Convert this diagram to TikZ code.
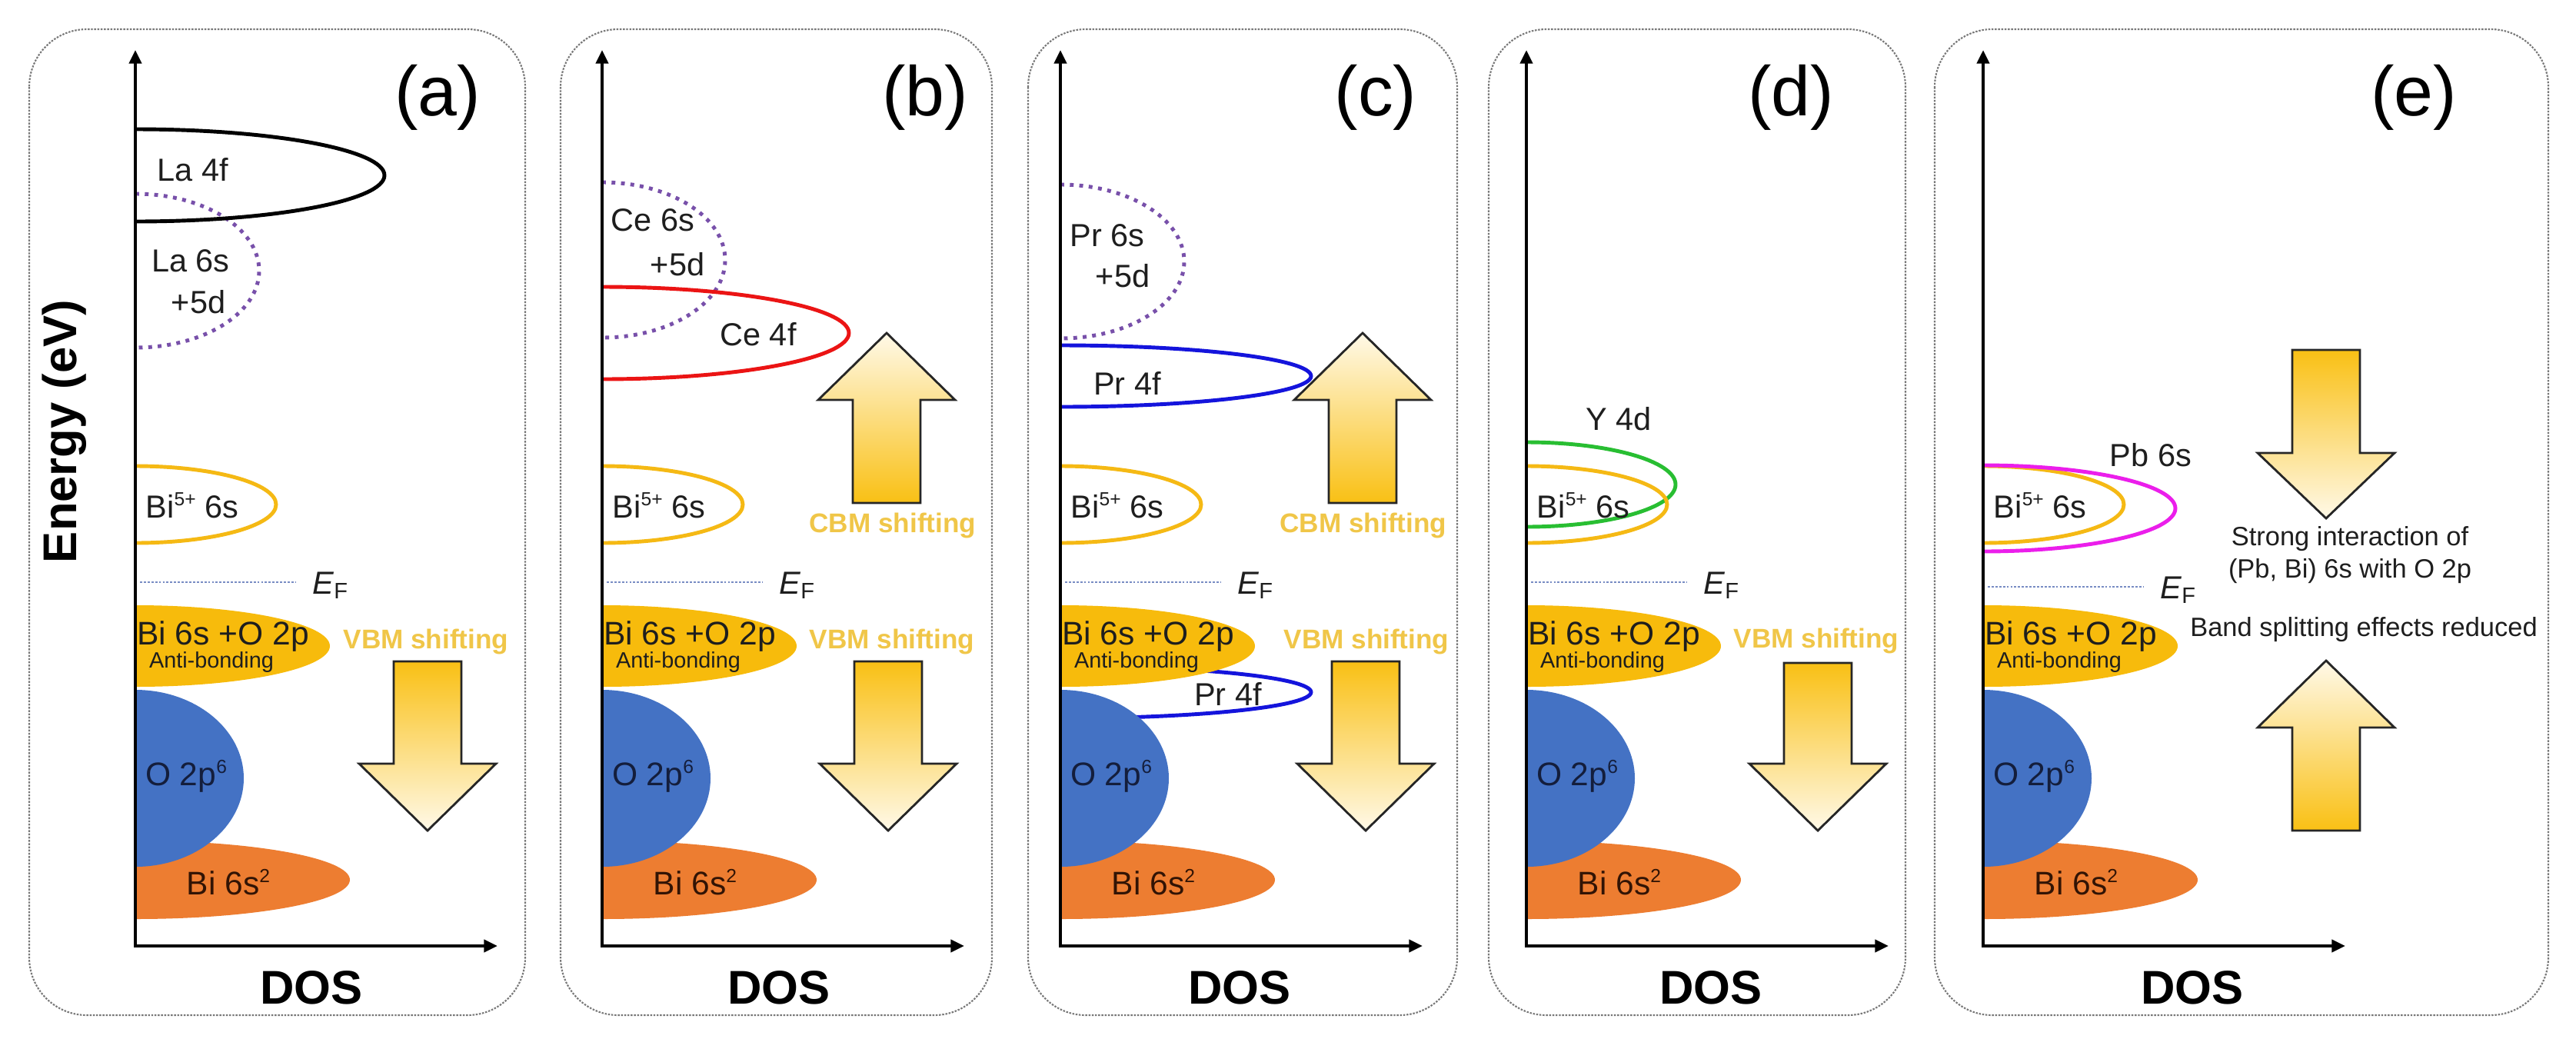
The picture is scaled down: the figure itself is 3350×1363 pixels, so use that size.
\documentclass[tikz,border=0pt]{standalone}
\usepackage{fontspec}
\setmainfont{Liberation Sans}
\usetikzlibrary{arrows.meta}
\definecolor{boxc}{RGB}{120,120,120}
\definecolor{goldf}{RGB}{247,187,12}
\definecolor{bluef}{RGB}{68,114,196}
\definecolor{orangef}{RGB}{237,125,49}
\definecolor{bi5c}{RGB}{245,185,20}
\definecolor{purpc}{RGB}{120,80,170}
\definecolor{efc}{RGB}{120,140,195}
\definecolor{shiftc}{RGB}{240,198,72}
\definecolor{arrgold}{RGB}{249,192,20}
\definecolor{arrpale}{RGB}{255,249,232}
\definecolor{redc}{RGB}{235,20,20}
\definecolor{prc}{RGB}{20,20,220}
\definecolor{greenc}{RGB}{40,190,50}
\definecolor{magc}{RGB}{235,30,235}
\definecolor{txtc}{RGB}{30,30,30}
\definecolor{navytxt}{RGB}{20,30,60}
\definecolor{browntxt}{RGB}{50,20,5}
\tikzset{
 panelbox/.style={draw=boxc, line width=0.6pt, dash pattern=on 0.7pt off 0.5pt, rounded corners=0.75cm},
 axisline/.style={line width=1.3pt, line join=miter, {Triangle[length=5pt,width=4.5pt]}-{Triangle[length=5pt,width=4.5pt]}},
 orb/.style={font=\fontsize{11.8}{14}\selectfont, text=txtc, inner sep=0pt},
 bigorb/.style={font=\fontsize{12.1}{14}\selectfont, text=txtc, inner sep=0pt},
 antib/.style={font=\fontsize{8.2}{10}\selectfont, text=txtc, inner sep=0pt},
 shiftlab/.style={font=\bfseries\fontsize{10}{12}\selectfont, text=shiftc, inner sep=0pt},
 notelab/.style={font=\fontsize{9.8}{12}\selectfont, text=txtc, inner sep=0pt},
 plabel/.style={font=\fontsize{26}{30}\selectfont, text=black, inner sep=0pt},
 axlabel/.style={font=\bfseries\fontsize{17.5}{20}\selectfont, text=black, inner sep=0pt},
 dotline/.style={draw=purpc, line width=1.4pt, dash pattern=on 1.4pt off 2.1pt},
 efline/.style={draw=efc, line width=0.7pt, dash pattern=on 0.8pt off 0.6pt},
 arrline/.style={draw=black!85, line width=0.8pt, line join=miter},
 outl/.style={draw=#1, line width=1.4pt},
}
\newcommand{\supx}[1]{\raisebox{0.38em}{\fontsize{7}{8}\selectfont #1}}
% half ellipse attached to the axis: colour/style, axis x, centre y, rx, ry
\newcommand{\HEfill}[5]{\fill[#1] (#2,#3-#5) arc[start angle=90,end angle=-90,x radius=#4*0.01cm,y radius=#5*0.01cm] -- cycle;}
\newcommand{\HEdraw}[5]{\draw[#1] (#2,#3-#5) arc[start angle=90,end angle=-90,x radius=#4*0.01cm,y radius=#5*0.01cm];}
\newcommand{\VBfills}[1]{%
 \HEfill{orangef}{#1}{1144}{279}{51}
 \HEfill{bluef}{#1}{1012}{141}{115}
 \HEfill{goldf}{#1}{840}{253}{53}}
\newcommand{\VBtexts}[2]{%
 \node[bigorb] (bo#2) at (#1+114,827) {Bi 6s +O 2p};
 \node[antib] (ab#2) at (#1+99,861) {Anti-bonding};
 \node[bigorb, text=navytxt] (op#2) at (#1+66,1009) {O 2p\supx{6}};
 \node[bigorb, text=browntxt] (bs#2) at (#1+121,1147) {Bi 6s\supx{2}};}
\newcommand{\BiFive}[2]{%
 \HEdraw{outl=bi5c}{#1}{656}{183}{50}
 \node[orb] (bf#2) at (#1+74,657) {Bi\supx{5+} 6s};}
\newcommand{\EFermi}[3]{%
 \draw[efline] (#1+6,#3) -- (#1+208,#3);
 \node[orb] (ef#2) at (#1+254,#3+4) {\textit{E}\textsubscript{F}};}
\newcommand{\Axes}[3]{%
 \draw[axisline] (#1,65) -- (#1,1230) -- (#1+471,1230);
 \node[axlabel] (dos#2) at (#1+#3,1284) {DOS};}
\newcommand{\DownArr}[4]{%
 \draw[arrline, top color=arrgold, bottom color=arrpale] (#1-44,#2) -- (#1+44,#2) -- (#1+44,#3) -- (#1+89,#3) -- (#1,#4) -- (#1-89,#3) -- (#1-44,#3) -- cycle;}
\newcommand{\UpArr}[4]{%
 \draw[arrline, top color=arrpale, bottom color=arrgold] (#1-44,#4) -- (#1+44,#4) -- (#1+44,#3) -- (#1+89,#3) -- (#1,#2) -- (#1-89,#3) -- (#1-44,#3) -- cycle;}
\begin{document}
\begin{tikzpicture}[x=0.01cm,y=-0.01cm]
\fill[white] (0,0) rectangle (3350,1363);
\useasboundingbox (0,0) rectangle (3350,1363);
% ---------- panel boxes
\draw[panelbox] (38,38) rectangle (683,1320);
\draw[panelbox] (729,38) rectangle (1290,1320);
\draw[panelbox] (1337,38) rectangle (1895,1320);
\draw[panelbox] (1936,38) rectangle (2478,1320);
\draw[panelbox] (2516,38) rectangle (3314,1320);
\node[axlabel, rotate=90] (energy) at (84,561) {Energy (eV)};
% ---------- panel (a)
\VBfills{176}
\VBtexts{176}{a}
\BiFive{176}{a}
\EFermi{176}{a}{757}
\HEdraw{dotline}{176}{352}{161}{100}
\HEdraw{outl=black}{176}{228}{324}{60}
\node[orb] (la4f) at (251,221) {La 4f};
\node[orb] (la6s) at (248,339) {La 6s};
\node[orb] (la5d) at (258,393) {+5d};
\node[shiftlab] (vbma) at (554,834) {VBM shifting};
\DownArr{556}{860}{993}{1080}
\node[plabel] (pa) at (569,127) {(a)};
\Axes{176}{a}{229}
% ---------- panel (b)
\VBfills{783}
\VBtexts{783}{b}
\BiFive{783}{b}
\EFermi{783}{b}{757}
\HEdraw{dotline}{783}{338}{160}{101}
\HEdraw{outl=redc}{783}{433}{321}{60}
\node[orb] (ce6s) at (849,286) {Ce 6s};
\node[orb] (ce5d) at (881,344) {+5d};
\node[orb] (ce4f) at (986,435) {Ce 4f};
\UpArr{1153}{433}{520}{654}
\node[shiftlab] (cbmb) at (1161,683) {CBM shifting};
\node[shiftlab] (vbmb) at (1160,834) {VBM shifting};
\DownArr{1155}{860}{993}{1080}
\node[plabel] (pb) at (1203,127) {(b)};
\Axes{783}{b}{230}
% ---------- panel (c)
\HEdraw{outl=prc}{1379}{900}{326}{34}
\VBfills{1379}
\VBtexts{1379}{c}
\BiFive{1379}{c}
\EFermi{1379}{c}{757}
\HEdraw{dotline}{1379}{340}{161}{100}
\HEdraw{outl=prc}{1379}{489}{326}{40}
\node[orb] (pr6s) at (1440,306) {Pr 6s};
\node[orb] (pr5d) at (1460,359) {+5d};
\node[orb] (pr4f) at (1466,498) {Pr 4f};
\node[orb] (pr4fl) at (1597,902) {Pr 4f};
\UpArr{1772}{433}{520}{654}
\node[shiftlab] (cbmc) at (1773,683) {CBM shifting};
\node[shiftlab] (vbmc) at (1777,834) {VBM shifting};
\DownArr{1776}{860}{993}{1080}
\node[plabel] (pc) at (1789,127) {(c)};
\Axes{1379}{c}{233}
% ---------- panel (d)
\VBfills{1985}
\VBtexts{1985}{d}
\HEdraw{outl=greenc}{1985}{630}{194}{55}
\BiFive{1985}{d}
\EFermi{1985}{d}{757}
\node[orb] (y4d) at (2105,545) {Y 4d};
\node[shiftlab] (vbmd) at (2362,833) {VBM shifting};
\DownArr{2364}{862}{993}{1080}
\node[plabel] (pd) at (2329,127) {(d)};
\Axes{1985}{d}{240}
% ---------- panel (e)
\VBfills{2579}
\VBtexts{2579}{e}
\BiFive{2579}{e}
\HEdraw{outl=magc}{2579}{661}{250}{56}
\EFermi{2579}{e}{763}
\node[orb] (pb6s) at (2797,592) {Pb 6s};
\DownArr{3025}{455}{589}{674}
\node[notelab] (strong) at (3056,701) {Strong interaction of};
\node[notelab] (pbbi) at (3056,743) {(Pb, Bi) 6s with O 2p};
\node[notelab] (band) at (3074,819) {Band splitting effects reduced};
\UpArr{3025}{859}{946}{1080}
\node[plabel] (pe) at (3139,127) {(e)};
\Axes{2579}{e}{272}
\end{tikzpicture}
\end{document}
